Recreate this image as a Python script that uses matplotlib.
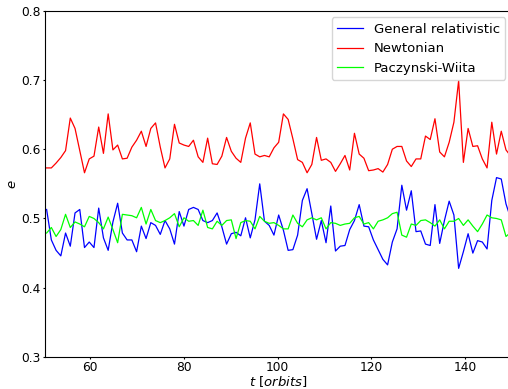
import numpy as np
import matplotlib
matplotlib.use("Agg")
import matplotlib.pyplot as plt

# time samples (orbits)
t_start = 50.75
t_step = 1.01

newtonian = [0.573, 0.573, 0.580, 0.588, 0.598, 0.645, 0.630, 0.598, 0.566, 0.586,
             0.590, 0.632, 0.594, 0.651, 0.599, 0.606, 0.586, 0.587, 0.603, 0.613,
             0.626, 0.604, 0.630, 0.638, 0.603, 0.573, 0.586, 0.636, 0.609, 0.606,
             0.604, 0.613, 0.589, 0.581, 0.616, 0.579, 0.578, 0.590, 0.617, 0.597,
             0.587, 0.581, 0.616, 0.638, 0.593, 0.589, 0.591, 0.589, 0.602, 0.610,
             0.651, 0.643, 0.615, 0.585, 0.581, 0.566, 0.578, 0.617, 0.584, 0.586,
             0.581, 0.568, 0.579, 0.591, 0.570, 0.623, 0.593, 0.587, 0.569, 0.570,
             0.572, 0.567, 0.578, 0.600, 0.604, 0.604, 0.583, 0.575, 0.586, 0.586,
             0.619, 0.614, 0.644, 0.596, 0.589, 0.610, 0.639, 0.699, 0.581, 0.630,
             0.604, 0.605, 0.586, 0.573, 0.639, 0.593, 0.626, 0.599, 0.590]

general_rel = [0.513, 0.469, 0.454, 0.446, 0.479, 0.460, 0.508, 0.513, 0.458, 0.466,
               0.458, 0.515, 0.472, 0.454, 0.495, 0.522, 0.479, 0.469, 0.469, 0.452,
               0.489, 0.471, 0.494, 0.490, 0.477, 0.497, 0.485, 0.463, 0.510, 0.489,
               0.513, 0.516, 0.513, 0.497, 0.494, 0.497, 0.508, 0.488, 0.463, 0.478,
               0.480, 0.475, 0.501, 0.472, 0.498, 0.550, 0.496, 0.490, 0.476, 0.505,
               0.483, 0.454, 0.455, 0.476, 0.526, 0.543, 0.507, 0.470, 0.497, 0.465,
               0.518, 0.453, 0.460, 0.461, 0.484, 0.497, 0.520, 0.489, 0.488, 0.469,
               0.455, 0.441, 0.433, 0.466, 0.485, 0.548, 0.512, 0.540, 0.481, 0.482,
               0.463, 0.461, 0.520, 0.464, 0.497, 0.525, 0.505, 0.428, 0.452, 0.478,
               0.450, 0.468, 0.466, 0.456, 0.526, 0.559, 0.557, 0.521, 0.500]

paczynski = [0.479, 0.487, 0.474, 0.484, 0.506, 0.487, 0.495, 0.492, 0.488, 0.503,
             0.500, 0.494, 0.485, 0.502, 0.484, 0.465, 0.506, 0.505, 0.504, 0.501,
             0.516, 0.492, 0.513, 0.497, 0.494, 0.497, 0.501, 0.507, 0.488, 0.501,
             0.496, 0.497, 0.490, 0.512, 0.487, 0.485, 0.496, 0.490, 0.497, 0.498,
             0.471, 0.494, 0.497, 0.496, 0.485, 0.503, 0.496, 0.493, 0.494, 0.490,
             0.485, 0.485, 0.505, 0.493, 0.488, 0.498, 0.501, 0.498, 0.501, 0.485,
             0.494, 0.493, 0.490, 0.492, 0.493, 0.501, 0.503, 0.492, 0.494, 0.485,
             0.496, 0.498, 0.501, 0.507, 0.509, 0.476, 0.473, 0.492, 0.490, 0.497,
             0.498, 0.494, 0.489, 0.498, 0.485, 0.496, 0.496, 0.500, 0.490, 0.498,
             0.489, 0.481, 0.492, 0.505, 0.501, 0.500, 0.498, 0.474, 0.480]

labels = ["General relativistic", "Newtonian", "Paczynski-Wiita"]
x_ticks = [60, 80, 100, 120, 140]
y_ticks = [0.3, 0.4, 0.5, 0.6, 0.7, 0.8]

t = t_start + t_step * np.arange(len(newtonian))

W, H = 508, 389
fig = plt.figure(figsize=(W / 100, H / 100), dpi=100)
ax = fig.add_axes([45.3 / W, (H - 357) / H, (512 - 45.3) / W, (357 - 10.7) / H])

ax.plot(t, general_rel, color="#0000ff", lw=0.9, label=labels[0])
ax.plot(t, newtonian, color="#ff0000", lw=0.9, label=labels[1])
ax.plot(t, paczynski, color="#00ff00", lw=0.9, label=labels[2])

ax.set_xlim(50.47, 150)
ax.set_ylim(0.3, 0.8)
ax.set_xticks(x_ticks)
ax.set_yticks(y_ticks)
ax.tick_params(labelsize=8.8, length=1.6, pad=1.5)
ax.set_xlabel(r"$t\ [orbits]$", fontsize=9.5, labelpad=0)
ax.set_ylabel(r"$e$", fontsize=9.5, labelpad=2)
ax.legend(loc="upper right", fontsize=9.5, handlelength=2.0)

fig.savefig("out.png", dpi=100)
